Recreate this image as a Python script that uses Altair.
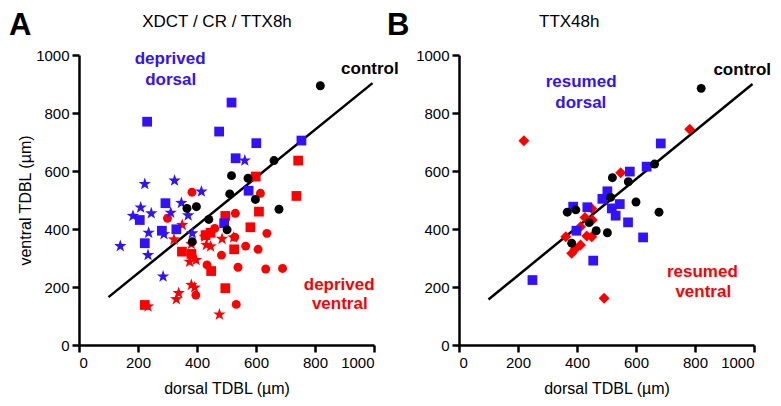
import altair as alt
import pandas as pd

FONT = "Liberation Sans"
BLUE = "#3311ff"
RED = "#ff0000"
BLACK = "#000000"
STAR = ("M0,-1L0.235,-0.324L0.951,-0.309L0.38,0.124L0.588,0.809L0,0.4"
        "L-0.588,0.809L-0.38,0.124L-0.951,-0.309L-0.235,-0.324Z")

TICKS = [0, 200, 400, 600, 800, 1000]

# ---------------- Panel A : XDCT / CR / TTX8h ----------------
a_control_x = [818, 517, 573, 661, 511, 598, 678, 366, 398, 440, 502, 384]
a_control_y = [894, 584, 575, 636, 521, 502, 468, 471, 477, 433, 397, 356]

a_dorsal_sq_x = [231, 517, 475, 601, 754, 531, 575, 293, 206, 492, 281, 330, 223]
a_dorsal_sq_y = [770, 836, 736, 696, 705, 644, 532, 489, 431, 420, 394, 399, 351]

a_dorsal_star_x = [562, 223, 324, 415, 209, 347, 183, 245, 311, 370, 236, 288, 384, 140, 234, 285]
a_dorsal_star_y = [636, 555, 567, 529, 474, 490, 445, 454, 456, 447, 387, 382, 385, 341, 310, 236]

a_ventral_circ_x = [383, 615, 530, 300, 460, 637, 528, 483, 565, 607, 434, 539, 633, 690, 396, 533]
a_ventral_circ_y = [527, 523, 454, 437, 402, 385, 372, 310, 341, 330, 276, 268, 262, 264, 172, 140]

a_ventral_sq_x = [743, 599, 737, 610, 496, 581, 446, 429, 526, 349, 381, 448, 496, 223]
a_ventral_sq_y = [636, 581, 514, 460, 445, 406, 387, 379, 330, 322, 314, 255, 196, 138]

a_ventral_star_x = [350, 322, 381, 426, 485, 524, 432, 446, 375, 397, 381, 392, 338, 330, 234, 476]
a_ventral_star_y = [414, 364, 348, 373, 366, 371, 345, 340, 287, 293, 207, 198, 179, 158, 133, 105]

a_fit_x = [100, 995]
a_fit_y = [165, 903]

# ---------------- Panel B : TTX48h ----------------
b_control_x = [821, 663, 520, 574, 514, 600, 678, 367, 396, 441, 465, 503, 382]
b_control_y = [885, 624, 577, 563, 509, 493, 458, 458, 466, 422, 394, 387, 351]

b_dorsal_sq_x = [684, 636, 579, 503, 486, 545, 518, 531, 573, 624, 387, 435, 398, 455, 249]
b_dorsal_sq_y = [695, 615, 598, 530, 504, 486, 471, 446, 423, 371, 477, 475, 394, 291, 224]

b_ventral_dia_x = [220, 782, 548, 450, 427, 452, 412, 362, 433, 450, 412, 393, 382, 492]
b_ventral_dia_y = [704, 744, 594, 471, 440, 431, 408, 373, 376, 373, 345, 330, 316, 161]

b_fit_x = [100, 995]
b_fit_y = [157, 900]

# annotations (text, x, y in data units, colour)
a_ann_text = ["deprived", "dorsal", "control", "deprived", "ventral"]
a_ann_x = [309, 311, 986, 882, 884]
a_ann_y = [986, 914, 952, 207, 140]
a_ann_col = [BLUE, BLUE, BLACK, RED, RED]

b_ann_text = ["resumed", "dorsal", "control", "resumed", "ventral"]
b_ann_x = [414, 413, 960, 825, 828]
b_ann_y = [906, 835, 948, 252, 183]
b_ann_col = [BLUE, BLUE, BLACK, RED, RED]

W, H = 295, 290
xscale = alt.Scale(domain=[0, 1000], nice=False)
yscale = alt.Scale(domain=[0, 1000], nice=False)


def enc_x():
    return alt.X("x:Q", scale=xscale,
                 axis=alt.Axis(values=TICKS, format="d", title="dorsal TDBL (µm)"))


def enc_y(title):
    return alt.Y("y:Q", scale=yscale,
                 axis=alt.Axis(values=TICKS, format="d", title=title))


def points(xs, ys, shape, color, size, ytitle):
    df = pd.DataFrame({"x": xs, "y": ys})
    return alt.Chart(df).mark_point(
        shape=shape, color=color, fill=color, filled=True, opacity=1,
        strokeWidth=0, size=size
    ).encode(x=enc_x(), y=enc_y(ytitle))


def fit_line(xs, ys, ytitle):
    df = pd.DataFrame({"x": xs, "y": ys})
    return alt.Chart(df).mark_line(color=BLACK, strokeWidth=2.5).encode(
        x=enc_x(), y=enc_y(ytitle))


def annotations(texts, xs, ys, cols, ytitle):
    df = pd.DataFrame({"x": xs, "y": ys, "t": texts, "c": cols})
    return alt.Chart(df).mark_text(
        font=FONT, fontSize=17, fontWeight="bold", baseline="middle", align="center"
    ).encode(x=enc_x(), y=enc_y(ytitle), text="t:N", color=alt.Color("c:N", scale=None))


def heading(txt, px, py, size, weight, align):
    df = pd.DataFrame({"t": [txt]})
    return alt.Chart(df).mark_text(
        font=FONT, fontSize=size, fontWeight=weight, align=align,
        baseline="alphabetic", color=BLACK
    ).encode(x=alt.value(px), y=alt.value(py), text="t:N")


ya = "ventral TDBL (µm)"
panel_a = alt.layer(
    fit_line(a_fit_x, a_fit_y, ya),
    points(a_ventral_circ_x, a_ventral_circ_y, "circle", RED, 80, ya),
    points(a_ventral_sq_x, a_ventral_sq_y, "square", RED, 95, ya),
    points(a_ventral_star_x, a_ventral_star_y, STAR, RED, 170, ya),
    points(a_dorsal_sq_x, a_dorsal_sq_y, "square", BLUE, 95, ya),
    points(a_dorsal_star_x, a_dorsal_star_y, STAR, BLUE, 170, ya),
    points(a_control_x, a_control_y, "circle", BLACK, 80, ya),
    annotations(a_ann_text, a_ann_x, a_ann_y, a_ann_col, ya),
    heading("A", -70, -20, 31, "bold", "left"),
    heading("XDCT / CR / TTX8h", 138, -28, 17, "normal", "center"),
).properties(width=W, height=H)

yb = None
panel_b = alt.layer(
    fit_line(b_fit_x, b_fit_y, yb),
    points(b_ventral_dia_x, b_ventral_dia_y, "diamond", RED, 120, yb),
    points(b_dorsal_sq_x, b_dorsal_sq_y, "square", BLUE, 95, yb),
    points(b_control_x, b_control_y, "circle", BLACK, 80, yb),
    annotations(b_ann_text, b_ann_x, b_ann_y, b_ann_col, yb),
    heading("B", -72, -20, 31, "bold", "left"),
    heading("TTX48h", 80, -28, 17, "normal", "left"),
).properties(width=W, height=H)

chart = alt.hconcat(panel_a, panel_b, spacing=85, bounds="flush").properties(
    padding={"left": 1, "top": 2, "right": 0, "bottom": 2}
).configure_view(stroke=None).configure_axis(
    domainColor=BLACK, domainWidth=2.5, tickColor=BLACK, tickWidth=2.5, tickSize=7,
    labelFont=FONT, labelFontSize=15, labelColor=BLACK, labelPadding=3,
    titleFont=FONT, titleFontSize=16, titleFontWeight="normal", titleColor=BLACK,
    grid=False
).configure_axisX(titlePadding=10).configure_axisY(titlePadding=2)

chart.save("out.html", embed_options={"renderer": "svg", "actions": False})
